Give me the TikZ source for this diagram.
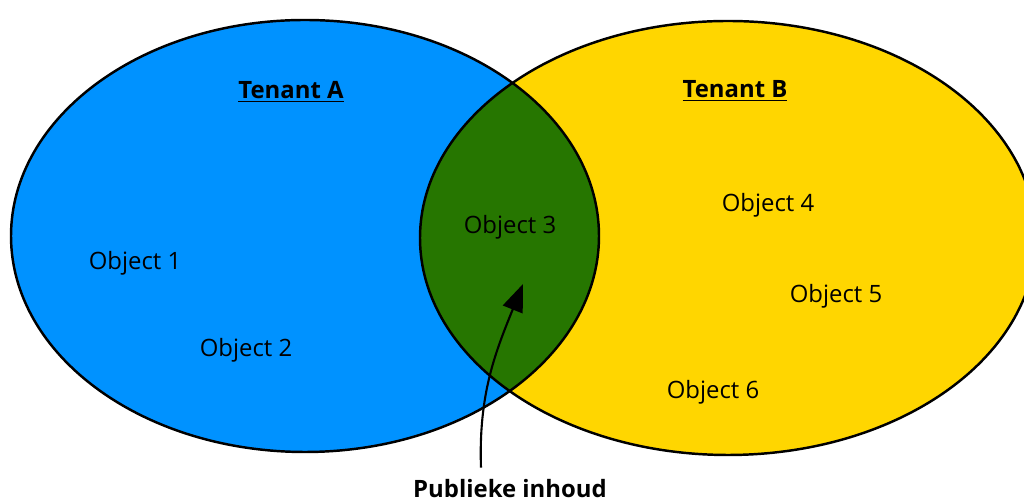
\documentclass[tikz,border=0pt]{standalone}
\usepackage{fontspec}
\setmainfont{Open Sans}
\usetikzlibrary{arrows.meta}
\definecolor{tenantblue}{RGB}{0,146,255}
\definecolor{tenantyellow}{RGB}{255,214,0}
\definecolor{publicgreen}{RGB}{38,118,0}

\begin{document}
\begin{tikzpicture}[font=\fontsize{13.6}{16}\selectfont]
\useasboundingbox (0,0) rectangle (20.48,10.08);
\clip (0,0) rectangle (20.48,10.08);
% Tenants
\fill[tenantblue] (6.10,5.36) ellipse (5.88 and 4.32);
\fill[tenantyellow] (14.56,5.32) ellipse (6.16 and 4.34);
% Overlap
\begin{scope}
\clip (6.10,5.36) ellipse (5.88 and 4.32);
\fill[publicgreen] (14.56,5.32) ellipse (6.16 and 4.34);
\end{scope}
\draw[line width=1.4pt] (6.10,5.36) ellipse (5.88 and 4.32);
\draw[line width=1.4pt] (14.56,5.32) ellipse (6.16 and 4.34);
% Labels
\node[font=\fontsize{13.6}{16}\selectfont\bfseries] (tenA) at (5.82,8.24) {\underline{Tenant A}};
\node[font=\fontsize{13.6}{16}\selectfont\bfseries] (tenB) at (14.70,8.26) {\underline{Tenant B}};
\node (obj1) at (2.70,4.81) {Object 1};
\node (obj2) at (4.92,3.07) {Object 2};
\node (obj3) at (10.20,5.53) {Object 3};
\node (obj4) at (15.36,5.97) {Object 4};
\node (obj5) at (16.72,4.15) {Object 5};
\node (obj6) at (14.26,2.23) {Object 6};
\node[font=\fontsize{13.6}{16}\selectfont\bfseries, anchor=base] (pub) at (10.20,0.12) {Publieke inhoud};
% Arrow
\coordinate (tip) at (10.46,4.40);
\draw[line width=1.2pt, -{Triangle[length=0.55cm,width=0.42cm]}]
  ([xshift=-0.58cm,yshift=0.12cm]pub.north) to[out=92,in=248] (tip);
\end{tikzpicture}
\end{document}
